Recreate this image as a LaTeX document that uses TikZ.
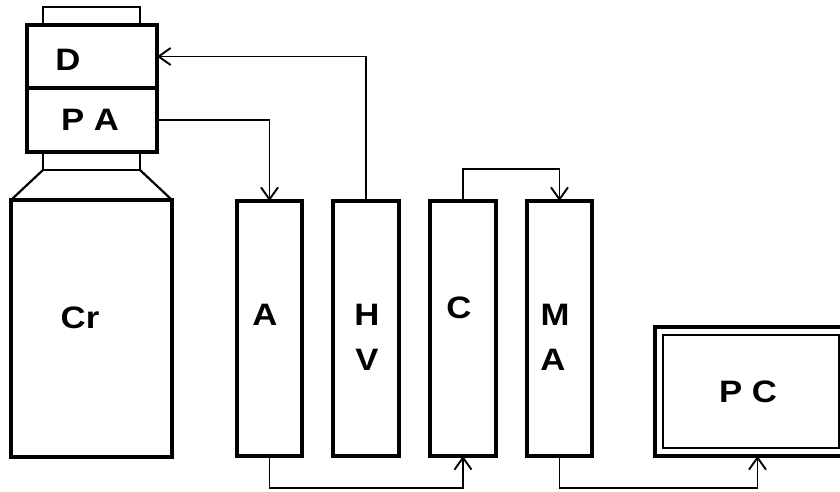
\documentclass[tikz,border=0pt]{standalone}
\usepackage{fontspec}
\setmainfont{Liberation Sans}
\usetikzlibrary{arrows.meta}
\begin{document}
\begin{tikzpicture}[x=1pt,y=-1pt,
  box/.style={draw, line width=3.4pt, inner sep=0pt, outer sep=0pt, anchor=north west},
  conn/.style={line width=1.9pt},
  arr/.style={conn, -{Straight Barb[length=12pt,width=17pt,line width=1.9pt]}},
  lbl/.style={font=\fontsize{31}{36}\selectfont\bfseries, anchor=base, xscale=1.12, inner sep=0pt}]
\useasboundingbox (0,0) rectangle (840,491);
% detector stack
\node[box, line width=2.6pt, minimum width=97pt, minimum height=18pt] (tab) at (43,7) {};
\node[box, minimum width=130pt, minimum height=63pt] (d) at (27,25) {};
\node[box, minimum width=130pt, minimum height=64pt] (pa) at (27,88) {};
\node[box, line width=2.6pt, minimum width=97pt, minimum height=18pt] (neck) at (43,152) {};
\node[box, minimum width=161pt, minimum height=257pt] (cr) at (11,200) {};
\draw[line width=2.2pt] (neck.south west) -- (cr.north west);
\draw[line width=2.2pt] (neck.south east) -- (cr.north east);
% modules
\node[box, minimum width=65pt, minimum height=255pt] (a) at (237,201) {};
\node[box, minimum width=66pt, minimum height=255pt] (hv) at (333,201) {};
\node[box, minimum width=66pt, minimum height=255pt] (c) at (430,201) {};
\node[box, minimum width=65pt, minimum height=255pt] (ma) at (527,201) {};
% PC
\node[box, minimum width=195pt, minimum height=129pt] (pc) at (655,327) {};
\node[box, line width=2.2pt, minimum width=176pt, minimum height=113pt] (pcin) at (663,335) {};
% labels
\node[lbl] (ld) at (68,70) {D};
\node[lbl] (lpa) at (90,130) {P A};
\node[lbl] (lcr) at (80,328) {Cr};
\node[lbl] (la) at (265,325) {A};
\node[lbl] (lh) at (367,325) {H};
\node[lbl] (lv) at (367,370) {V};
\node[lbl] (lc) at (459,318) {C};
\node[lbl] (lm) at (555,325) {M};
\node[lbl] (la2) at (553,370) {A};
\node[lbl] (lpc) at (748,402) {P C};
% connectors
\draw[arr] (hv.north) |- (d.east);
\draw[arr] (pa.east) -| (a.north);
\draw[arr] (c.north) -- ++(0,-32) -| (ma.north);
\draw[arr] (a.south) -- ++(0,32) -| (c.south);
\coordinate (pcin1) at ([xshift=5pt]pc.south);
\draw[arr] (ma.south) -- ++(0,32) -| (pcin1);
\end{tikzpicture}
\end{document}
